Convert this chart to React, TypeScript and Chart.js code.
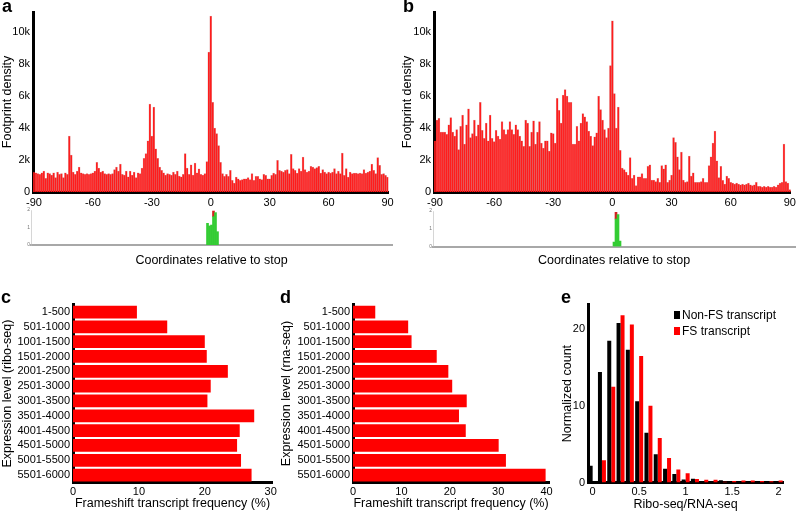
import React, { useEffect, useRef } from 'react';
import { Chart, registerables } from 'chart.js';

Chart.register(...registerables);

const FONT = "'Liberation Sans', Arial, Helvetica, sans-serif";
Chart.defaults.font.family = FONT;
Chart.defaults.color = '#000';

// ---------- DATA ----------
// positions relative to stop codon (-90 .. 90)
const positions: number[] = Array.from({ length: 181 }, (_, k) => k - 90);

// panel a: footprint density (thousands)
const densityA = [
  1.25, 1.2, 1.15, 1.1, 1.2, 1.3, 0.85, 1.2, 1.15, 1.05,
  1.2, 0.9, 1.25, 1.1, 1.15, 0.9, 1.2, 1.1, 3.5, 2.3,
  1.25, 1.1, 1.3, 1.55, 1.2, 1.15, 1.1, 1.15, 1.1, 1.15,
  1.2, 1.3, 1.85, 1.5, 1.25, 1.3, 1.15, 1.1, 1.15, 1.1,
  1.15, 1.4, 1.55, 1.3, 1.75, 1.1, 1.05, 1.3, 0.95, 1.3,
  1.05, 1.25, 0.9, 1.2, 1.15, 1.5, 2.1, 2.4, 3.2, 5.5,
  3.5, 5.3, 2.7, 2.1, 1.55, 1.35, 1.2, 1.05, 1.15, 1.1,
  1.05, 1.25, 1.1, 1.3, 1.0, 0.95, 1.1, 2.4, 1.5, 1.1,
  1.7, 1.05, 1.8, 1.2, 1.45, 1.1, 1.05, 1.15, 1.9, 8.75,
  11.0, 5.6, 4.0, 3.65, 2.9, 1.85, 1.15, 0.98, 1.1, 0.98,
  1.35, 0.73, 0.56, 0.94, 0.83, 0.73, 0.77, 0.83, 0.83, 0.9,
  0.77, 1.15, 0.73, 0.98, 0.98, 0.83, 0.77, 1.1, 1.04, 0.83,
  0.83, 1.04, 1.19, 1.1, 1.98, 1.35, 1.31, 1.25, 1.35, 1.4,
  1.15, 2.35, 1.46, 1.35, 1.19, 1.46, 1.31, 2.19, 1.4, 1.25,
  1.31, 1.6, 1.56, 1.46, 1.52, 1.6, 1.19, 1.4, 1.25, 1.15,
  1.25, 1.19, 1.25, 1.46, 1.15, 1.31, 1.15, 2.44, 1.04, 1.46,
  0.94, 1.25, 1.15, 1.19, 1.19, 1.15, 1.19, 1.15, 1.4, 1.19,
  1.25, 1.3, 1.75, 1.35, 1.15, 2.15, 1.67, 1.1, 1.15, 1.04,
  0.94,
];

// panel b: footprint density (thousands)
const densityB = [
  3.2, 4.5, 4.6, 3.75, 3.75, 3.75, 3.6, 4.2, 4.65, 3.75,
  3.5, 3.9, 2.65, 4.1, 4.8, 3.0, 4.2, 5.2, 3.4, 3.65,
  4.5, 3.5, 4.2, 5.6, 3.85, 3.35, 4.3, 3.2, 4.8, 3.35,
  3.15, 3.85, 3.5, 3.3, 4.4, 3.9, 3.6, 3.9, 4.4, 3.9,
  3.6, 4.2, 3.9, 3.5, 3.2, 2.85, 4.5, 4.3, 2.85, 3.75,
  4.45, 3.0, 3.75, 4.4, 3.05, 2.75, 3.2, 3.2, 2.55, 3.7,
  3.65, 3.05, 5.85, 5.1, 4.3, 6.05, 6.4, 6.0, 5.6, 5.6,
  3.0, 3.0, 4.1, 3.2, 4.3, 4.9, 4.7, 4.4, 3.8, 3.5,
  2.9, 3.45, 3.7, 6.0, 5.15, 4.5, 3.9, 3.4, 4.0, 7.9,
  10.7, 6.15, 4.0, 5.3, 2.6, 1.5, 1.4, 1.25, 1.05, 2.15,
  0.85, 1.05, 0.4, 0.95, 0.95, 1.15, 0.85, 0.85, 1.6, 1.7,
  0.75, 0.75, 0.65, 0.85, 0.6, 1.65, 1.45, 1.7, 0.6, 0.75,
  1.05, 3.4, 3.1, 2.2, 1.4, 2.5, 0.75, 0.6, 0.65, 2.25,
  1.0, 1.2, 0.6, 0.6, 0.6, 0.65, 0.85, 0.6, 0.6, 1.65,
  2.2, 3.05, 3.8, 1.95, 0.9, 1.6, 0.73, 0.5, 1.0, 0.85,
  0.6, 0.55, 0.5, 0.55, 0.5, 0.45, 0.5, 0.45, 0.5, 0.55,
  0.45, 0.4, 0.45, 0.6, 0.35, 0.35, 0.3, 0.35, 0.3, 0.35,
  0.3, 0.3, 0.35, 0.3, 0.45, 0.55, 0.6, 3.0, 0.65, 0.55,
  0.15,
];

// small sequence-logo strips under a and b (bits)
const logoPosA = [-2, -1, 0, 1, 2, 3];
const logoGreenA = [1.24, 1.09, 1.14, 1.62, 1.85, 0.76];
const logoRedA = [0, 0, 0, 0.32, 0, 0];
const logoPosB = [0, 1, 2, 3];
const logoGreenB = [0.25, 1.55, 1.8, 0.3];
const logoRedB = [0, 0.37, 0, 0];

// panels c, d
const expressionBins = [
  '1-500', '501-1000', '1001-1500', '1501-2000', '2001-2500', '2501-3000',
  '3001-3500', '3501-4000', '4001-4500', '4501-5000', '5001-5500', '5501-6000',
];
const riboFreq = [9.7, 14.3, 20.0, 20.3, 23.5, 20.9, 20.4, 27.5, 25.3, 24.9, 25.5, 27.1];
const rnaFreq = [4.6, 11.4, 12.1, 17.3, 19.7, 20.5, 23.5, 21.9, 23.3, 30.1, 31.6, 39.8];

// panel e
const ratioBins = [0, 0.1, 0.2, 0.3, 0.4, 0.5, 0.6, 0.7, 0.8, 0.9, 1.0, 1.1, 1.2, 1.3, 1.4, 1.5, 1.6, 1.7, 1.8, 1.9, 2.0];
const nonFsCounts = [2.2, 14.4, 18.5, 20.8, 17.3, 10.6, 6.5, 3.7, 1.8, 1.1, 0.4, 0.5, 0.15, 0.1, 0.3, 0.05, 0.05, 0.1, 0.05, 0.1, 0.05];
const fsCounts = [0, 2.9, 12.5, 21.8, 20.6, 16.5, 10.0, 5.8, 3.2, 1.7, 1.2, 0.45, 0.35, 0.35, 0.1, 0.2, 0.25, 0.25, 0.2, 0.15, 0.25];

// ---------- helpers ----------
const BAR_RED = '#ff1c1c';
const noGrid = { display: false, drawTicks: false };
const blackBorder = { display: true, color: '#000', width: 3 };
const tickFont = { family: FONT, size: 11 };
const titleFont = { family: FONT, size: 12.5 };

function spread(pos: number[], vals: number[]) {
  return positions.map((p) => {
    const k = pos.indexOf(p);
    return k < 0 || !vals[k] ? null : vals[k];
  });
}

function densityConfig(values: number[], yWidth: number, padRight: number): any {
  return {
    type: 'bar',
    data: {
      labels: positions,
      datasets: [{
        data: values,
        backgroundColor: BAR_RED,
        borderColor: 'rgba(170,0,0,0.35)',
        borderWidth: 0.5,
        borderSkipped: 'bottom',
        barPercentage: 1,
        categoryPercentage: 1,
      }],
    },
    options: {
      responsive: false, animation: false, devicePixelRatio: 1,
      layout: { padding: { top: 12, right: padRight, left: 0, bottom: 0 } },
      plugins: { legend: { display: false }, tooltip: { enabled: false } },
      scales: {
        x: {
          grid: noGrid, border: blackBorder,
          ticks: {
            autoSkip: false, maxRotation: 0, minRotation: 0, padding: 4, font: tickFont,
            callback: (_v: any, i: number) => (positions[i] % 30 === 0 ? String(positions[i]) : ''),
          },
          afterFit: (s: any) => { s.height = 24; },
        },
        y: {
          min: 0, max: 11.25,
          grid: noGrid, border: blackBorder,
          ticks: { stepSize: 2, includeBounds: false, padding: 3, font: tickFont, callback: (v: any) => (v === 0 ? '0' : v + 'k') },
          afterBuildTicks: (s: any) => { s.ticks = s.ticks.filter((t: any) => t.value % 2 === 0); },
          title: { display: true, text: 'Footprint density', font: titleFont, padding: { top: 0, bottom: 0 } },
          afterFit: (s: any) => { s.width = yWidth; },
        },
      },
    },
  };
}

function logoConfig(green: (number | null)[], red: (number | null)[], yWidth: number, padTop: number, xHeight: number, padRight: number): any {
  return {
    type: 'bar',
    data: {
      labels: positions,
      datasets: [
        { data: green, backgroundColor: '#33cc33', stack: 's', barPercentage: 1, categoryPercentage: 1 },
        { data: red, backgroundColor: '#d42020', stack: 's', barPercentage: 1, categoryPercentage: 1 },
      ],
    },
    options: {
      responsive: false, animation: false, devicePixelRatio: 1,
      layout: { padding: { top: padTop, right: padRight, left: 0, bottom: 0 } },
      plugins: { legend: { display: false }, tooltip: { enabled: false } },
      scales: {
        x: {
          stacked: true,
          grid: noGrid,
          border: { display: true, color: '#a8a8a8', width: 2, dash: [1, 1] },
          ticks: { display: false },
          title: { display: true, text: 'Coordinates relative to stop', font: titleFont, padding: { top: 0, bottom: 3.5 } },
          afterFit: (s: any) => { s.height = xHeight; },
        },
        y: {
          stacked: true, min: 0, max: 2,
          grid: noGrid,
          border: { display: true, color: '#bbb', width: 0.6 },
          ticks: { stepSize: 1, padding: 1, color: '#777', font: { family: FONT, size: 5 } },
          afterFit: (s: any) => { s.width = yWidth; },
        },
      },
    },
  };
}

function freqConfig(values: number[], max: number, yTitle: string, yWidth: number, padRight: number): any {
  return {
    type: 'bar',
    data: {
      labels: expressionBins,
      datasets: [{ data: values, backgroundColor: '#ff0000', barPercentage: 0.86, categoryPercentage: 1 }],
    },
    options: {
      indexAxis: 'y',
      responsive: false, animation: false, devicePixelRatio: 1,
      layout: { padding: { top: 8, right: padRight, left: 0, bottom: 0 } },
      plugins: { legend: { display: false }, tooltip: { enabled: false } },
      scales: {
        x: {
          min: 0, max,
          grid: noGrid, border: blackBorder,
          ticks: { stepSize: 10, includeBounds: false, padding: 3, font: tickFont },
          afterBuildTicks: (s: any) => { s.ticks = s.ticks.filter((t: any) => t.value % 10 === 0); },
          title: { display: true, text: 'Frameshift transcript frequency (%)', font: titleFont, padding: { top: 0, bottom: 8 } },
          afterFit: (s: any) => { s.height = 36.5; },
        },
        y: {
          grid: noGrid, border: blackBorder,
          ticks: { autoSkip: false, padding: 3, font: { family: FONT, size: 11 } },
          title: { display: true, text: yTitle, font: titleFont, padding: { top: 0, bottom: 0 } },
          afterFit: (s: any) => { s.width = yWidth; },
        },
      },
    },
  };
}

function ratioConfig(): any {
  return {
    type: 'bar',
    data: {
      labels: ratioBins,
      datasets: [
        { label: 'Non-FS transcript', data: nonFsCounts, backgroundColor: '#000', barPercentage: 1, categoryPercentage: 0.86 },
        { label: 'FS transcript', data: fsCounts, backgroundColor: '#ff0000', barPercentage: 1, categoryPercentage: 0.86 },
      ],
    },
    options: {
      responsive: false, animation: false, devicePixelRatio: 1,
      layout: { padding: { top: 6.7, right: 16.7, left: 0, bottom: 0 } },
      plugins: { legend: { display: false }, tooltip: { enabled: false } },
      scales: {
        x: {
          grid: noGrid, border: blackBorder,
          ticks: {
            autoSkip: false, maxRotation: 0, minRotation: 0, padding: 3, font: tickFont,
            callback: (_v: any, i: number) => {
              const b = ratioBins[i];
              return Math.abs(b * 2 - Math.round(b * 2)) < 1e-9 ? String(b) : '';
            },
          },
          title: { display: true, text: 'Ribo-seq/RNA-seq', font: titleFont, padding: { top: 0, bottom: 7 } },
          afterFit: (s: any) => { s.height = 36.5; },
        },
        y: {
          min: 0, max: 23.2,
          grid: noGrid, border: blackBorder,
          ticks: { stepSize: 10, includeBounds: false, padding: 3, font: tickFont },
          afterBuildTicks: (s: any) => { s.ticks = s.ticks.filter((t: any) => t.value % 10 === 0); },
          title: { display: true, text: 'Normalized count', font: titleFont, padding: { top: 0, bottom: 0 } },
          afterFit: (s: any) => { s.width = 28; },
        },
      },
    },
  };
}

function ChartBox(props: { left: number; top: number; width: number; height: number; make: () => any }) {
  const ref = useRef<HTMLCanvasElement>(null);
  useEffect(() => {
    const chart = new Chart(ref.current as HTMLCanvasElement, props.make());
    return () => chart.destroy();
  }, []);
  return (
    <canvas
      ref={ref}
      width={props.width}
      height={props.height}
      style={{ position: 'absolute', left: props.left, top: props.top, width: props.width, height: props.height }}
    />
  );
}

const letterStyle = (left: number, top: number): React.CSSProperties => ({
  position: 'absolute', left, top, fontFamily: FONT, fontWeight: 'bold', fontSize: 18, lineHeight: '18px', color: '#000',
});

export default function App() {
  return (
    <div style={{ position: 'fixed', left: 0, top: 0, width: 800, height: 519, background: '#fff', overflow: 'hidden' }}>
      <ChartBox left={0} top={0} width={400} height={216} make={() => densityConfig(densityA, 33, 11.5)} />
      <ChartBox left={400} top={0} width={400} height={216} make={() => densityConfig(densityB, 34, 9)} />
      <ChartBox left={0} top={204} width={400} height={68}
        make={() => logoConfig(spread(logoPosA, logoGreenA), spread(logoPosA, logoRedA), 31, 6, 27, 8)} />
      <ChartBox left={400} top={204} width={400} height={68}
        make={() => logoConfig(spread(logoPosB, logoGreenB), spread(logoPosB, logoRedB), 33, 7, 25.5, 5)} />
      <ChartBox left={0} top={295} width={281} height={224}
        make={() => freqConfig(riboFreq, 30.2, 'Expression level (ribo-seq)', 73, 9)} />
      <ChartBox left={279} top={295} width={280} height={224}
        make={() => freqConfig(rnaFreq, 40.5, 'Expression level (rna-seq)', 74, 10)} />
      <ChartBox left={560} top={295} width={240} height={224} make={ratioConfig} />

      <div style={letterStyle(2, -3)}>a</div>
      <div style={letterStyle(403, -3)}>b</div>
      <div style={letterStyle(1, 288)}>c</div>
      <div style={letterStyle(280, 288)}>d</div>
      <div style={letterStyle(561, 288)}>e</div>

      <div style={{ position: 'absolute', left: 674, top: 307, fontFamily: FONT, fontSize: 12, lineHeight: '16px', color: '#000' }}>
        <div style={{ display: 'flex', alignItems: 'center' }}>
          <span style={{ display: 'inline-block', width: 6, height: 8, background: '#000', marginRight: 2 }} />
          <span>Non-FS transcript</span>
        </div>
        <div style={{ display: 'flex', alignItems: 'center' }}>
          <span style={{ display: 'inline-block', width: 6, height: 8, background: '#ff0000', marginRight: 2 }} />
          <span>FS transcript</span>
        </div>
      </div>
    </div>
  );
}
